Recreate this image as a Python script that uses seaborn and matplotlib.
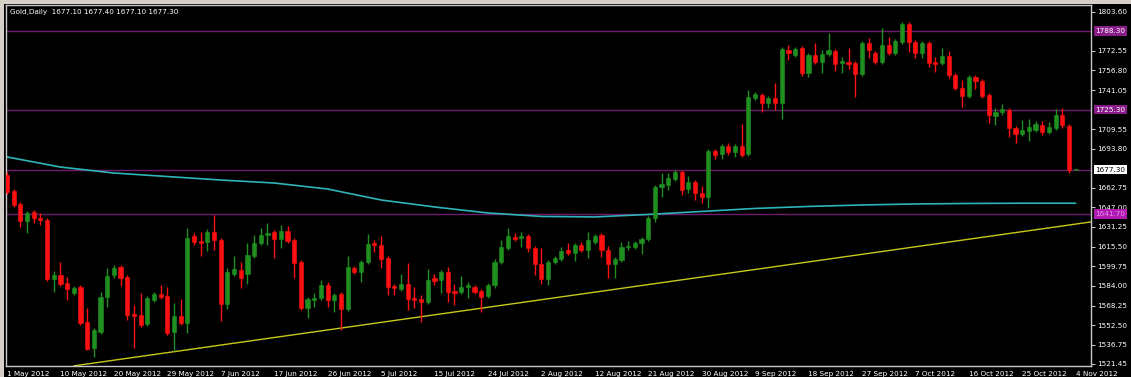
import numpy as np
import pandas as pd
import matplotlib
matplotlib.use("Agg")
import matplotlib.pyplot as plt
import seaborn as sns
from matplotlib.patches import Rectangle
from matplotlib.transforms import blended_transform_factory

# ---------------- data ----------------
opens = [1672.9, 1660.1, 1649.7, 1636.0, 1643.3, 1638.4, 1636.8, 1589.5, 1592.8, 1586.3,
         1578.3, 1583.1, 1555.1, 1534.2, 1547.1, 1575.1, 1592.8, 1599.2, 1591.1, 1561.5,
         1560.7, 1553.5, 1572.7, 1577.5, 1575.9, 1547.1, 1559.9, 1554.3, 1624.0, 1620.0,
         1619.2, 1627.2, 1620.8, 1569.5, 1593.6, 1596.8, 1593.6, 1608.0, 1618.4, 1624.8,
         1627.2, 1621.6, 1628.0, 1620.8, 1603.2, 1566.3, 1572.7, 1574.3, 1584.7, 1572.7,
         1577.5, 1565.5, 1598.4, 1595.2, 1603.2, 1618.4, 1616.8, 1606.4, 1583.9, 1581.5,
         1585.5, 1574.3, 1573.5, 1571.1, 1590.4, 1588.7, 1595.2, 1579.9, 1579.1, 1583.1,
         1583.1, 1579.9, 1575.9, 1584.7, 1603.2, 1614.4, 1623.2, 1622.4, 1624.0, 1614.4,
         1601.6, 1589.5, 1603.2, 1605.6, 1612.8, 1610.4, 1616.8, 1612.8, 1619.2, 1624.8,
         1612.8, 1601.6, 1604.8, 1615.2, 1615.2, 1618.4, 1621.6, 1638.4, 1663.3, 1664.9,
         1669.7, 1675.3, 1661.7, 1667.3, 1658.5, 1655.3, 1692.2, 1689.8, 1696.2, 1691.4,
         1696.2, 1689.8, 1734.6, 1737.0, 1730.6, 1734.6, 1730.6, 1773.1, 1769.1, 1774.7,
         1754.7, 1769.1, 1763.5, 1769.9, 1772.3, 1762.7, 1763.5, 1762.7, 1753.9, 1778.7,
         1770.7, 1763.5, 1777.1, 1770.7, 1779.5, 1794.0, 1779.5, 1770.7, 1778.7, 1763.5,
         1762.7, 1768.3, 1753.1, 1742.7, 1736.2, 1751.5, 1748.3, 1737.0, 1720.2, 1723.4,
         1725.0, 1710.6, 1705.8, 1708.2, 1709.0, 1713.0, 1707.4, 1710.6, 1721.0, 1712.2,
         1677.1]
highs = [1675.3, 1661.7, 1651.3, 1644.1, 1644.9, 1642.5, 1638.4, 1596.0, 1603.2, 1591.1,
         1583.9, 1584.7, 1566.3, 1550.3, 1579.1, 1598.4, 1600.8, 1600.8, 1592.8, 1568.7,
         1578.3, 1575.9, 1579.1, 1584.7, 1583.1, 1570.3, 1573.5, 1630.4, 1626.4, 1627.2,
         1629.6, 1640.9, 1622.4, 1598.4, 1608.0, 1603.2, 1618.4, 1624.8, 1630.4, 1634.4,
         1628.8, 1632.8, 1632.0, 1622.4, 1604.8, 1575.1, 1578.3, 1588.7, 1587.1, 1578.3,
         1579.1, 1608.0, 1600.0, 1604.8, 1625.6, 1620.8, 1624.0, 1608.0, 1585.5, 1593.6,
         1602.4, 1583.1, 1576.7, 1597.6, 1593.6, 1596.8, 1599.2, 1585.5, 1591.9, 1587.1,
         1584.7, 1581.5, 1586.3, 1605.6, 1620.8, 1630.4, 1626.4, 1627.2, 1625.6, 1616.0,
         1614.4, 1604.8, 1608.0, 1615.2, 1618.4, 1618.4, 1619.2, 1627.2, 1625.6, 1626.4,
         1616.0, 1607.2, 1619.2, 1620.0, 1620.0, 1623.2, 1640.0, 1664.9, 1674.5, 1674.5,
         1676.9, 1676.9, 1672.1, 1668.9, 1664.1, 1693.8, 1693.8, 1697.8, 1698.6, 1697.8,
         1713.8, 1741.1, 1739.5, 1738.6, 1736.2, 1746.7, 1775.5, 1777.1, 1775.5, 1776.3,
         1770.7, 1778.7, 1773.1, 1786.7, 1773.9, 1767.5, 1774.7, 1764.3, 1780.3, 1782.7,
         1772.3, 1790.8, 1783.5, 1781.9, 1795.6, 1795.6, 1781.1, 1780.3, 1780.3, 1767.5,
         1774.7, 1772.3, 1754.7, 1749.1, 1753.1, 1753.1, 1749.9, 1738.6, 1726.6, 1729.8,
         1726.6, 1712.2, 1717.0, 1717.8, 1716.2, 1716.2, 1715.4, 1725.8, 1726.6, 1713.8,
         1677.4]
lows = [1657.7, 1647.3, 1631.2, 1626.4, 1634.4, 1632.8, 1587.9, 1579.1, 1583.9, 1572.7,
        1576.7, 1552.7, 1532.6, 1527.0, 1545.5, 1567.1, 1590.4, 1583.9, 1556.7, 1534.2,
        1551.1, 1551.9, 1571.1, 1573.5, 1544.7, 1531.8, 1552.7, 1546.3, 1616.8, 1608.0,
        1612.0, 1612.8, 1555.9, 1565.5, 1591.9, 1582.3, 1585.5, 1606.4, 1616.8, 1616.8,
        1606.4, 1614.4, 1618.4, 1590.4, 1564.7, 1558.3, 1567.1, 1572.7, 1567.1, 1563.1,
        1548.7, 1563.9, 1593.6, 1587.1, 1601.6, 1611.2, 1598.4, 1576.7, 1576.7, 1579.9,
        1564.7, 1566.3, 1555.1, 1569.5, 1584.7, 1578.3, 1571.1, 1568.7, 1577.5, 1574.3,
        1577.5, 1563.1, 1574.3, 1582.3, 1601.6, 1612.8, 1620.0, 1615.2, 1611.2, 1592.8,
        1585.5, 1584.7, 1601.6, 1604.0, 1608.8, 1604.0, 1611.2, 1606.4, 1617.6, 1607.2,
        1590.4, 1590.4, 1603.2, 1612.8, 1613.6, 1609.6, 1620.0, 1635.2, 1655.3, 1660.9,
        1668.1, 1656.9, 1658.5, 1652.9, 1650.5, 1646.5, 1685.7, 1685.7, 1689.0, 1687.3,
        1687.3, 1688.2, 1733.0, 1723.4, 1726.6, 1725.0, 1717.8, 1765.1, 1767.5, 1752.3,
        1751.5, 1761.9, 1754.7, 1768.3, 1756.3, 1754.7, 1757.9, 1735.4, 1752.3, 1766.7,
        1761.9, 1761.9, 1769.1, 1769.1, 1777.9, 1771.5, 1766.7, 1766.7, 1759.5, 1755.5,
        1761.1, 1750.7, 1741.1, 1727.4, 1734.6, 1741.9, 1734.6, 1714.6, 1713.0, 1721.0,
        1703.4, 1698.6, 1704.2, 1700.2, 1707.4, 1705.0, 1705.8, 1709.0, 1710.6, 1674.5,
        1677.1]
closes = [1659.3, 1648.9, 1636.0, 1642.5, 1638.4, 1636.8, 1589.5, 1592.8, 1585.5, 1581.5,
          1582.3, 1554.3, 1533.4, 1548.7, 1575.1, 1591.9, 1598.4, 1590.4, 1560.7, 1559.9,
          1552.7, 1574.3, 1577.5, 1575.1, 1546.3, 1559.9, 1554.3, 1622.4, 1619.2, 1618.4,
          1627.2, 1620.8, 1569.5, 1595.2, 1597.6, 1590.4, 1608.8, 1618.4, 1624.8, 1626.4,
          1621.6, 1628.0, 1620.0, 1602.4, 1566.3, 1573.5, 1574.3, 1584.7, 1572.7, 1576.7,
          1565.5, 1599.2, 1595.2, 1603.2, 1617.6, 1616.8, 1605.6, 1583.1, 1582.3, 1585.5,
          1573.5, 1573.1, 1571.1, 1588.7, 1587.9, 1595.2, 1579.1, 1578.7, 1583.1, 1584.7,
          1579.1, 1575.1, 1584.7, 1603.2, 1615.2, 1624.0, 1621.6, 1624.0, 1614.4, 1601.6,
          1589.5, 1603.2, 1606.4, 1612.0, 1610.4, 1616.8, 1612.8, 1620.8, 1624.0, 1612.8,
          1601.6, 1605.6, 1615.2, 1616.4, 1618.4, 1621.6, 1638.4, 1663.3, 1665.7, 1670.5,
          1675.3, 1660.9, 1667.3, 1658.5, 1655.3, 1692.2, 1689.0, 1696.2, 1691.4, 1696.2,
          1689.0, 1735.4, 1737.8, 1730.6, 1734.6, 1730.6, 1773.9, 1770.7, 1773.9, 1754.7,
          1769.1, 1763.5, 1769.9, 1773.1, 1761.9, 1764.3, 1762.3, 1753.9, 1778.7, 1773.1,
          1763.5, 1777.1, 1770.7, 1780.3, 1794.0, 1779.5, 1770.7, 1778.7, 1762.7, 1762.3,
          1768.3, 1753.1, 1742.7, 1736.2, 1751.5, 1748.3, 1736.2, 1721.0, 1723.4, 1725.8,
          1710.6, 1705.8, 1709.0, 1711.4, 1713.8, 1707.4, 1711.4, 1721.0, 1713.0, 1677.0,
          1677.3]

date_labels = ["1 May 2012", "10 May 2012", "20 May 2012", "29 May 2012", "7 Jun 2012",
               "17 Jun 2012", "26 Jun 2012", "5 Jul 2012", "15 Jul 2012", "24 Jul 2012",
               "2 Aug 2012", "12 Aug 2012", "21 Aug 2012", "30 Aug 2012", "9 Sep 2012",
               "18 Sep 2012", "27 Sep 2012", "7 Oct 2012", "16 Oct 2012", "25 Oct 2012",
               "4 Nov 2012"]
# moving average value read at each labelled date
ma_values = [1687.4, 1679.3, 1674.5, 1671.7, 1668.9, 1666.5, 1661.7, 1652.9, 1647.3, 1642.5,
             1639.7, 1639.3, 1641.3, 1643.7, 1646.1, 1647.7, 1648.9, 1649.7, 1650.1, 1650.3,
             1650.3]

price_ticks = [1803.60, 1772.55, 1756.80, 1741.05, 1709.55, 1693.80, 1662.75, 1647.00,
               1631.25, 1615.50, 1599.75, 1584.00, 1568.25, 1552.50, 1536.75, 1521.45]
hline_levels = [1788.30, 1725.30, 1676.6, 1641.70]
hline_labels = ["1788.30", "1725.30", None, "1641.70"]
bid_price = 1677.30
trend_dates = ["2012-05-13", "2012-11-02"]
trend_prices = [1519.9, 1632.8]
title_text = "Gold,Daily  1677.10 1677.40 1677.10 1677.30"

# ---------------- build ----------------
dates = [d for d in pd.date_range("2012-05-01", "2012-11-04") if d.weekday() != 5]
df = pd.DataFrame({"date": dates, "open": opens, "high": highs, "low": lows, "close": closes})
df["i"] = np.arange(len(df))
date_to_i = {d.strftime("%Y-%m-%d"): i for i, d in enumerate(dates)}
label_i = [date_to_i[pd.Timestamp(s).strftime("%Y-%m-%d")] for s in date_labels]

sns.set_style("dark", {"axes.facecolor": "black", "figure.facecolor": "black"})
plt.rcParams["font.family"] = ["DejaVu Sans"]

W, H = 1131, 377
fig = plt.figure(figsize=(W / 100, H / 100), dpi=100, facecolor="black")
ax = fig.add_axes([6 / W, 1 - 366 / H, (1091 - 6) / W, (366 - 5) / H])
ax.set_facecolor("black")

BG = "#d4d0c8"
fig.patches.append(Rectangle((0, 1 - 4 / H), 1, 4 / H, transform=fig.transFigure,
                             facecolor=BG, edgecolor="none", zorder=0))
fig.patches.append(Rectangle((0, 0), 4 / W, 1, transform=fig.transFigure,
                             facecolor=BG, edgecolor="none", zorder=0))

xmin, xmax = -0.15, 162.3
ax.set_xlim(xmin, xmax)
ax.set_ylim(1519.8, 1809.2)

# horizontal lines
for lv in hline_levels:
    ax.axhline(lv, color="#6e1a6e", linewidth=1.0, zorder=1)

# trend line (ray)
ti = [date_to_i[s] for s in trend_dates]
slope = (trend_prices[1] - trend_prices[0]) / (ti[1] - ti[0])
tx = [ti[0], xmax]
ty = [trend_prices[0], trend_prices[0] + slope * (xmax - ti[0])]
sns.lineplot(x=tx, y=ty, ax=ax, color="#c8c81e", linewidth=1.0, zorder=2)

# moving average
sns.lineplot(x=label_i, y=ma_values, ax=ax, color="#2fb4b8", linewidth=1.2, zorder=2)

# candles
up = df["close"] >= df["open"]
cols = np.where(up, "#1f8f1f", "#ff1010")
ax.vlines(df["i"], df["low"], df["high"], colors=cols, linewidth=1.0, zorder=3)
bottoms = np.minimum(df["open"], df["close"])
heights = np.maximum(np.abs(df["close"] - df["open"]), 0.7)
ax.bar(df["i"], heights, bottom=bottoms, width=0.62, color=cols, edgecolor=cols,
       linewidth=0.4, zorder=4)

# axes styling
for s in ax.spines.values():
    s.set_color("#c8c8c8")
    s.set_linewidth(1.0)
ax.grid(False)
ax.yaxis.tick_right()
ax.set_yticks(price_ticks)
ax.set_yticklabels([f"{v:.2f}" for v in price_ticks])
ax.set_xticks(label_i)
ax.set_xticklabels(date_labels)
for lab in ax.get_xticklabels():
    lab.set_horizontalalignment("left")
ax.tick_params(axis="y", direction="out", length=3, width=0.8, color="#c8c8c8",
               labelcolor="white", labelsize=5.2, pad=1.5)
ax.tick_params(axis="x", direction="out", length=3, width=0.8, color="#c8c8c8",
               labelcolor="white", labelsize=5.2, pad=0.5)
ax.set_xlabel("")
ax.set_ylabel("")

# price labels on the axis
trans = blended_transform_factory(ax.transAxes, ax.transData)
for lv, lb in zip(hline_levels, hline_labels):
    if lb is None:
        continue
    fc = "#b01ab0" if lb == "1641.70" else "#8a1c8a"
    tc = "#e88ce8" if lb == "1641.70" else "white"
    ax.text(1.004, lv, lb, transform=trans, ha="left", va="center", fontsize=5.2,
            color=tc, bbox=dict(boxstyle="square,pad=0.25", fc=fc, ec="none"),
            clip_on=False, zorder=6)
ax.text(1.004, bid_price, f"{bid_price:.2f}", transform=trans, ha="left", va="center",
        fontsize=5.2, color="black", bbox=dict(boxstyle="square,pad=0.25", fc="white", ec="none"),
        clip_on=False, zorder=6)

ax.text(0.004, 0.988, title_text, transform=ax.transAxes, ha="left", va="top",
        fontsize=5.2, color="white", zorder=6)

fig.savefig("out.png", dpi=100, facecolor="black")
